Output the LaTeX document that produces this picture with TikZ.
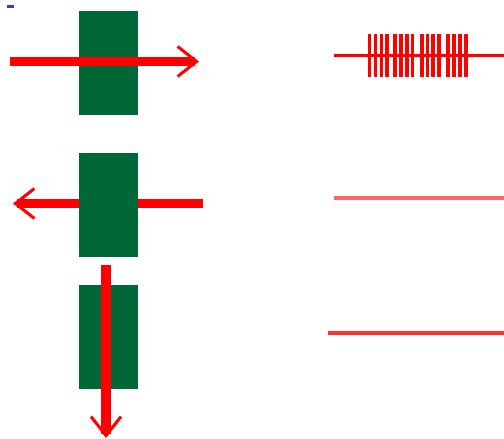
\documentclass[tikz,border=0pt]{standalone}
\usetikzlibrary{arrows.meta}
\definecolor{slab}{RGB}{0,104,55}
\definecolor{beam}{RGB}{255,0,0}
\begin{document}
\begin{tikzpicture}[x=1pt,y=-1pt,
  slabbox/.style={fill=slab,minimum width=59pt,minimum height=104pt,inner sep=0pt,outer sep=0pt},
  ray/.style={draw=beam,line width=9.5pt,
    -{Straight Barb[length=19pt,width=30pt,line width=3pt]}},
  trace/.style={draw=beam,line width=3pt},
  spike/.style={draw=beam,line width=3.2pt}]
\useasboundingbox (0,0) rectangle (504,439);

% small marker in the corner
\fill[blue!80] (7,5) rectangle (14,7.5);

% top: beam passing through the slab
\node[slabbox] (s1) at (108,63) {};
\coordinate (r1a) at (10,61.5);
\coordinate (r1b) at (199,61.5);
\draw[ray] (r1a) -- (r1b);

% middle: beam reflected back
\coordinate (r2a) at (203,203.5);
\coordinate (r2b) at (13,203.5);
\draw[ray] (r2a) -- (r2b);
\node[slabbox] (s2) at (108,205) {};

% bottom: beam running down through the slab
\node[slabbox] (s3) at (108,337) {};
\coordinate (r3a) at (106,265);
\coordinate (r3b) at (106,438);
\draw[ray] (r3a) -- (r3b);

% right column: signal traces
\coordinate (t1a) at (334,55);
\coordinate (t1b) at (504,55);
\draw[trace] (t1a) -- (t1b);
\foreach \x in {369.5,375.5,381.5,387,395,401,407,412.5,422,427.5,433,439,448,454,460,466}
  \draw[spike] (\x,34) -- (\x,77);

\coordinate (t2a) at (334,198);
\coordinate (t2b) at (504,198);
\draw[trace,draw=beam!60,line width=3.5pt] (t2a) -- (t2b);

\coordinate (t3a) at (328,333);
\coordinate (t3b) at (504,333);
\draw[trace,draw=beam!80,line width=3.5pt] (t3a) -- (t3b);
\end{tikzpicture}
\end{document}
